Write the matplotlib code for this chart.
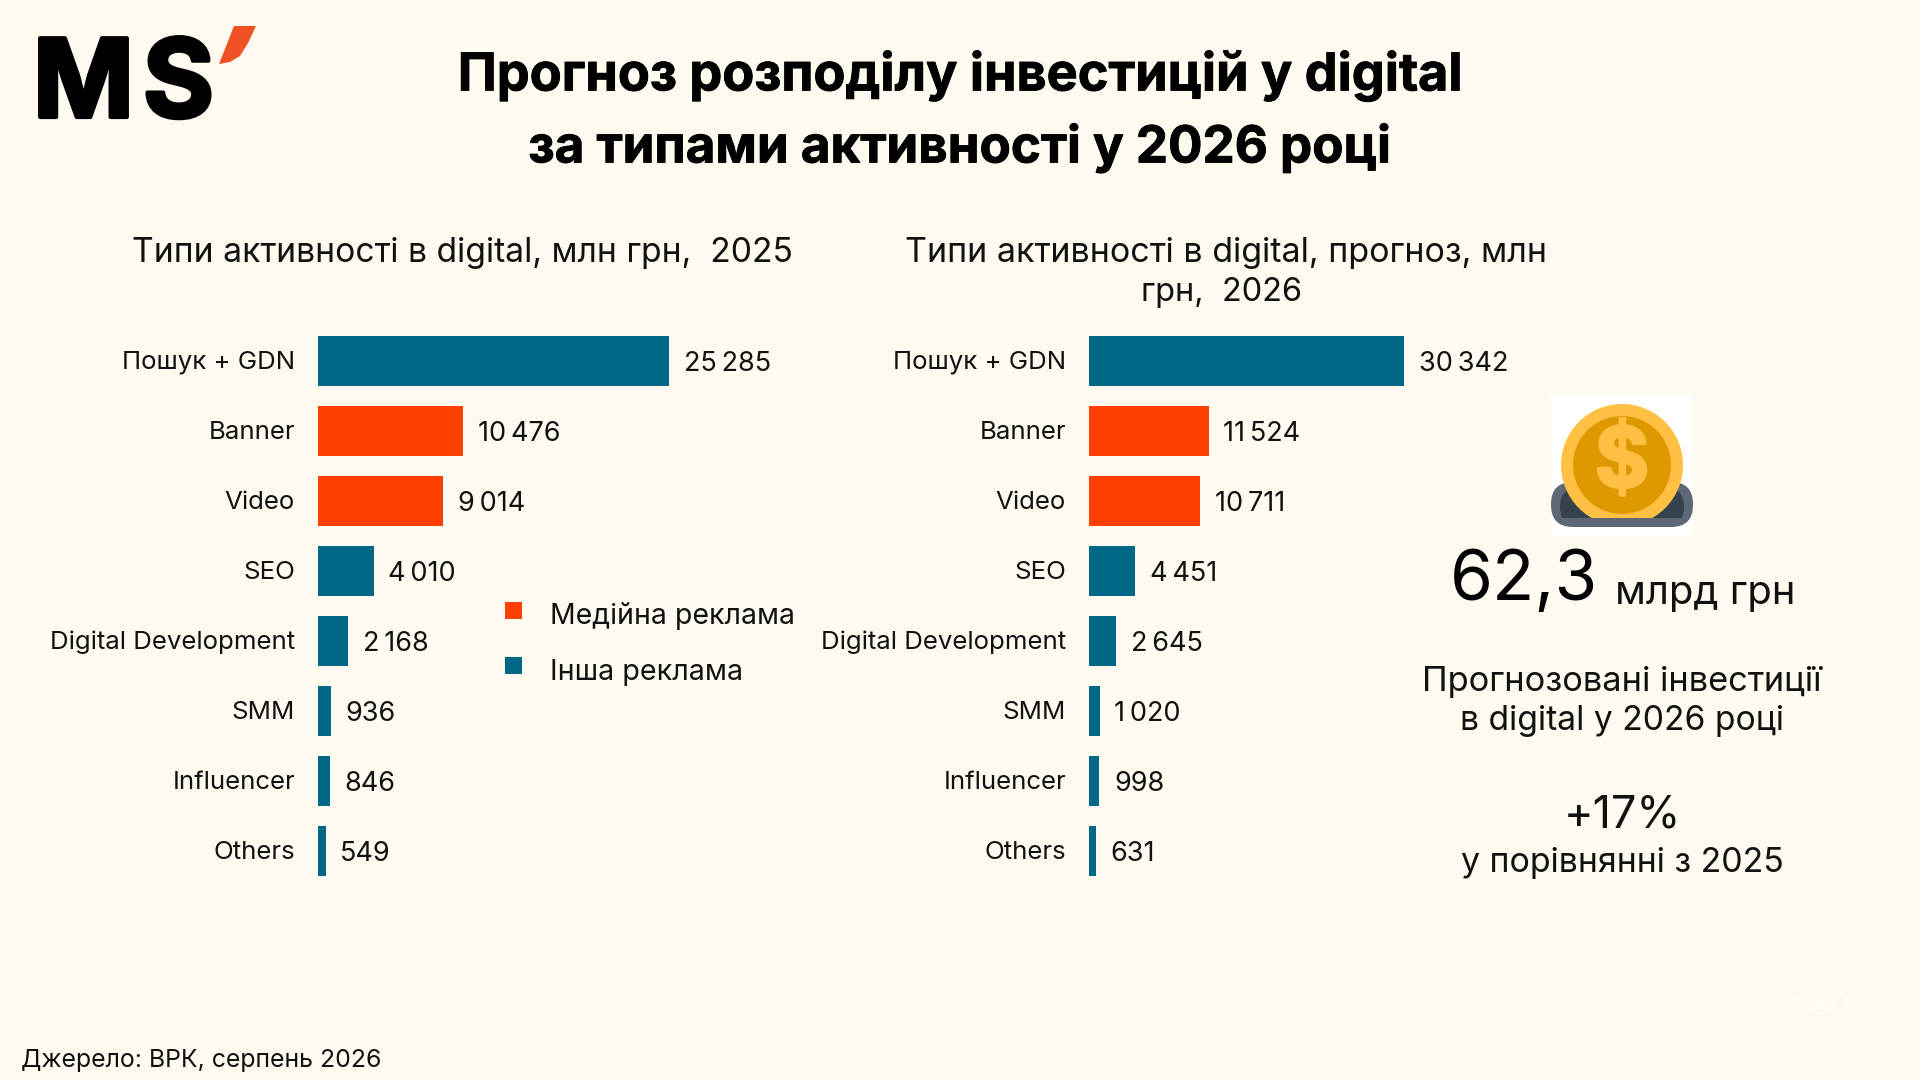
import matplotlib
matplotlib.use('Agg')
from matplotlib import pyplot as plt
from matplotlib import patheffects
from matplotlib.patches import Circle, FancyBboxPatch, Polygon, Rectangle
from matplotlib.transforms import ScaledTranslation

plt.rcParams['font.family'] = ['Inter', 'DejaVu Sans']

categories = ['Пошук + GDN', 'Banner', 'Video', 'SEO', 'Digital Development', 'SMM', 'Influencer', 'Others']
values_2025 = [25285, 10476, 9014, 4010, 2168, 936, 846, 549]
values_2026 = [30342, 11524, 10711, 4451, 2645, 1020, 998, 631]
groups = ['other', 'media', 'media', 'other', 'other', 'other', 'other', 'other']

BG = '#fffaf0'
BLUE = '#006887'
ORANGE = '#ff4000'
INK = '#111111'
group_colors = {'media': ORANGE, 'other': BLUE}

fig = plt.figure(figsize=(19.2, 10.8), dpi=100, facecolor=BG)

# overlay in pixel coordinates, for all the slide text
bg = fig.add_axes([0, 0, 1, 1])
bg.set_xlim(0, 1920)
bg.set_ylim(1080, 0)
bg.axis('off')


def heavy(width, color='black'):
    return [patheffects.withStroke(linewidth=width, foreground=color)]


def draw_bars(left, width, values):
    ax = fig.add_axes([left / 1920, (1080 - 886) / 1080, width / 1920, 560 / 1080])
    ax.patch.set_alpha(0)
    colors = [group_colors[g] for g in groups]
    bars = ax.barh(range(len(values)), values, height=0.72, color=colors)
    ax.set_xlim(0, max(values))
    ax.set_ylim(len(values) - 0.5, -0.5)
    ax.set_yticks(range(len(values)), categories, fontsize=18.6, color=INK)
    ax.tick_params(axis='y', length=0, pad=16.5)
    ax.set_xticks([])
    for side in ax.spines.values():
        side.set_visible(False)
    for label in ax.get_yticklabels():
        label.set_transform(label.get_transform() + ScaledTranslation(0, 1 / 100, fig.dpi_scale_trans))
    labels = [f'{v:,}'.replace(',', '\u2009') for v in values]
    texts = ax.bar_label(bars, labels=labels, padding=10.5, fontsize=19.5, color=INK, clip_on=False)
    for t in texts:
        t.xyann = (t.xyann[0], -2)


draw_bars(318, 351, values_2025)
draw_bars(1089, 315, values_2026)

# title and subtitles
bg.text(960, 76, 'Прогноз розподілу інвестицій у digital', ha='center', va='center',
        fontsize=37.6, fontweight='bold', color='black', path_effects=heavy(0.6))
bg.text(960, 148, 'за типами активності у 2026 році', ha='center', va='center',
        fontsize=36.8, fontweight='bold', color='black', path_effects=heavy(0.6))
bg.text(462, 253, 'Типи активності в digital, млн грн,  2025', ha='center', va='center',
        fontsize=24.2, color=INK)
bg.text(1226, 253, 'Типи активності в digital, прогноз, млн', ha='center', va='center',
        fontsize=24.5, color=INK)
bg.text(1222, 292, 'грн,  2026', ha='center', va='center', fontsize=23.4, color=INK)

# legend
bg.add_patch(Rectangle((505, 602), 17, 17, color=ORANGE, lw=0))
bg.add_patch(Rectangle((505, 657), 17, 17, color=BLUE, lw=0))
bg.text(550, 616, 'Медійна реклама', va='center', fontsize=20.5, color=INK)
bg.text(550, 672, 'Інша реклама', va='center', fontsize=20.6, color=INK)

# logo
bg.text(33, 117, 'M', va='baseline', fontsize=78, fontweight='bold', color='black', path_effects=heavy(3))
bg.text(214, 117, 'S', ha='right', va='baseline', fontsize=78, fontweight='bold', color='black', path_effects=heavy(3))
bg.add_patch(Polygon([(234, 26), (256, 26), (248, 43), (240, 56), (230, 62), (219, 64)], color='#f15223', lw=0))

# coin icon
bg.add_patch(Rectangle((1551, 395), 142, 141, color='white', lw=0))
bg.add_patch(FancyBboxPatch((1551, 482), 142, 45, boxstyle='round,pad=0,rounding_size=22',
                            fc='#5d6874', lw=0))
slot = FancyBboxPatch((1560, 487), 124, 40, boxstyle='round,pad=0,rounding_size=20', fc='#37424f', lw=0)
bg.add_patch(slot)
slot.set_clip_path(Rectangle((1551, 395), 142, 123, transform=bg.transData))
coin_clip = Rectangle((1551, 395), 142, 123, transform=bg.transData)
outer = Circle((1622, 465), 61, color='#ffc044', lw=0)
inner = Circle((1622, 465), 49, color='#de9800', lw=0)
bg.add_patch(outer)
bg.add_patch(inner)
outer.set_clip_path(coin_clip)
inner.set_clip_path(coin_clip)
bg.text(1622, 465, '$', ha='center', va='center', fontsize=60, fontweight='bold', color='#ffc044',
        path_effects=heavy(2, '#ffc044'))

# side figures
bg.text(1450, 582, '62,3', va='center', fontsize=50, color='black')
bg.text(1615, 593, 'млрд грн', va='center', fontsize=28.8, color=INK)
bg.text(1622, 682, 'Прогнозовані інвестиції', ha='center', va='center', fontsize=24.8, color=INK)
bg.text(1622, 721, 'в digital у 2026 році', ha='center', va='center', fontsize=24.2, color=INK)
bg.text(1622, 815, '+17%', ha='center', va='center', fontsize=32.3, color=INK)
bg.text(1622, 863, 'у порівнянні з 2025', ha='center', va='center', fontsize=24.4, color=INK)

# footer
bg.text(21, 1060, 'Джерело: ВРК, серпень 2026', va='center', fontsize=17.9, color=INK)
bg.text(1822, 1006, 'Page 1', ha='center', va='center', fontsize=13, color='#fffef9')

fig.savefig('out.png', dpi=100, facecolor=BG)
